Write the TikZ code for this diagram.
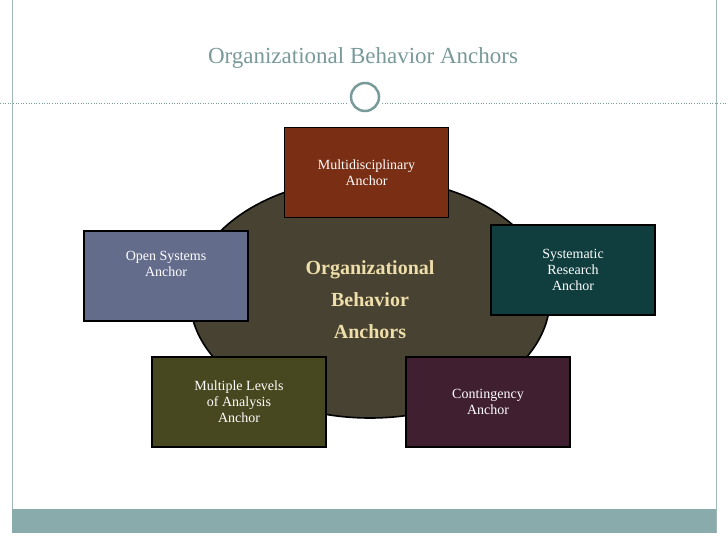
\documentclass[tikz,border=0pt]{standalone}
\usepackage{fontspec}
\setmainfont{Liberation Serif}
\usetikzlibrary{shapes.geometric}
\begin{document}
\begin{tikzpicture}[x=1pt,y=-1pt,
  box/.style={draw=black,line width=1.6pt,minimum width=#1,minimum height=90pt,align=center,text=white,font=\fontsize{14}{16}\selectfont},
  box/.default=164pt]
\definecolor{teal1}{HTML}{7A9A9A}
\definecolor{bar}{HTML}{8AABAB}
\useasboundingbox (0,0) rectangle (728,546);
\fill[white] (0,0) rectangle (728,546);
\draw[teal1!70,line width=0.6pt] (12,0) -- (12,533) (716,0) -- (716,533);
\fill[bar] (12,509) rectangle (716,533);
\node (t) [text=teal1,font=\fontsize{23}{28}\selectfont] at (363,58) {Organizational Behavior Anchors};
\draw[teal1,dotted,line width=0.6pt] (0,103) -- (348,103) (382,103) -- (728,103);
\node (c) [draw=teal1,circle,line width=2.5pt,minimum size=28pt,inner sep=0pt] at (365,97) {};
\node (ell) [draw=black,line width=1.6pt,fill={rgb,255:red,72;green,66;blue,50},ellipse,minimum width=360pt,minimum height=240pt] at (370,298) {};
\node (center) [text={rgb,255:red,238;green,222;blue,170},font=\bfseries\fontsize{20}{32}\selectfont,align=center] at (370,300) {Organizational\\Behavior\\Anchors};
\node (m) [box,fill={rgb,255:red,122;green,46;blue,20}] at (366.5,172.5) {Multidisciplinary\\Anchor};
\node (s) [box,fill={rgb,255:red,16;green,62;blue,62}] at (573,270) {Systematic\\Research\\Anchor};
\node (o) [box,fill={rgb,255:red,100;green,108;blue,140}] at (166,276) {Open Systems\\Anchor\\[8pt]};
\node (l) [box=174pt,fill={rgb,255:red,72;green,72;blue,32}] at (239,402) {Multiple Levels\\of Analysis\\Anchor};
\node (g) [box,fill={rgb,255:red,64;green,32;blue,48}] at (488,402) {Contingency\\Anchor};
\end{tikzpicture}
\end{document}
